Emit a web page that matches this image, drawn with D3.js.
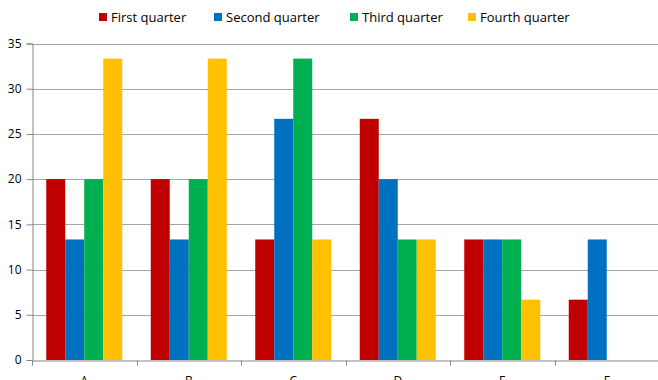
<!DOCTYPE html>
<html>
<head>
<meta charset="utf-8">
<script src="https://cdn.jsdelivr.net/npm/d3@7"></script>
<style>
  body { margin: 0; background: #fff; }
  svg { display: block; font-family: "Open Sans", sans-serif; }
</style>
</head>
<body>
<div class="chart"></div>
<script>
const categories = ["A", "B", "C", "D", "E", "F"];
const seriesNames = ["First quarter", "Second quarter", "Third quarter", "Fourth quarter"];
const firstQuarter = [20, 20, 13.33, 26.67, 13.33, 6.67];
const secondQuarter = [13.33, 13.33, 26.67, 20, 13.33, 13.33];
const thirdQuarter = [20, 20, 33.33, 13.33, 13.33, 0];
const fourthQuarter = [33.33, 33.33, 13.33, 13.33, 6.67, 0];
const yTicks = [0, 5, 10, 15, 20, 25, 30, 35];
const colors = ["#C00000", "#0070C0", "#00B050", "#FFC000"];

const series = [firstQuarter, secondQuarter, thirdQuarter, fourthQuarter];

const width = 658,
  height = 380;
const plotLeft = 32,
  plotRight = 659,
  plotTop = 43.5,
  plotBottom = 360;

const svg = d3
  .select(".chart")
  .append("svg")
  .attr("width", width)
  .attr("height", height);

const x0 = d3.scaleBand().domain(categories).range([plotLeft, plotRight]);
// excel style: gap width 150%
const bw = x0.bandwidth() / (series.length + 1.5);
const x1 = d3
  .scaleBand()
  .domain(d3.range(series.length))
  .range([0, bw * series.length]);
const y = d3.scaleLinear().domain([0, 35]).range([plotBottom, plotTop]);

// gridlines
svg
  .append("g")
  .selectAll("line")
  .data(yTicks.filter((d) => d > 0))
  .enter()
  .append("line")
  .attr("x1", plotLeft)
  .attr("x2", plotRight)
  .attr("y1", (d) => Math.round(y(d)) + 0.5)
  .attr("y2", (d) => Math.round(y(d)) + 0.5)
  .attr("stroke", "#a6a6a6")
  .attr("stroke-width", 1);

// bars
const groups = svg
  .append("g")
  .selectAll("g")
  .data(categories)
  .enter()
  .append("g")
  .attr("transform", (d) => "translate(" + (x0(d) + (x0.bandwidth() - bw * series.length) / 2) + ",0)");

groups
  .selectAll("rect")
  .data((d, i) => series.map((s, j) => ({ s: j, v: s[i] })).filter((e) => e.v > 0))
  .enter()
  .append("rect")
  .attr("x", (d) => x1(d.s))
  .attr("width", x1.bandwidth())
  .attr("y", (d) => y(d.v))
  .attr("height", (d) => plotBottom - y(d.v))
  .attr("fill", (d) => colors[d.s]);

// y axis
const yAxis = d3.axisLeft(y).tickValues(yTicks).tickSize(6).tickPadding(5);
const gy = svg
  .append("g")
  .attr("transform", "translate(" + (plotLeft + 0.5) + ",0)")
  .call(yAxis);
gy.select(".domain").attr("stroke", "#868686");
gy.selectAll(".tick line").attr("stroke", "#868686");
gy.selectAll(".tick text")
  .attr("fill", "#000")
  .style("font-size", "12px")
  .style("font-family", "Open Sans, sans-serif");

// x axis
const xAxis = d3.axisBottom(x0).tickSize(0).tickPadding(16);
const gx = svg
  .append("g")
  .attr("transform", "translate(0," + (plotBottom + 0.5) + ")")
  .call(xAxis);
gx.select(".domain").attr("stroke", "#868686");
gx.selectAll(".tick text")
  .attr("fill", "#000")
  .style("font-size", "12px")
  .style("font-family", "Open Sans, sans-serif");
// category boundary ticks
gx.append("g")
  .selectAll("line")
  .data(categories)
  .enter()
  .append("line")
  .attr("x1", (d) => Math.round(x0(d)) + 0.5)
  .attr("x2", (d) => Math.round(x0(d)) + 0.5)
  .attr("y1", 0)
  .attr("y2", 5)
  .attr("stroke", "#868686");

// legend
const legendX = [99, 214, 350, 468];
const legend = svg
  .append("g")
  .selectAll("g")
  .data(seriesNames)
  .enter()
  .append("g")
  .attr("transform", (d, i) => "translate(" + legendX[i] + ",13)");
legend
  .append("rect")
  .attr("width", 8)
  .attr("height", 8)
  .attr("fill", (d, i) => colors[i]);
legend
  .append("text")
  .attr("x", 12)
  .attr("y", 4)
  .attr("dy", "0.35em")
  .style("font-size", "13px")
  .text((d) => d);
</script>
</body>
</html>
